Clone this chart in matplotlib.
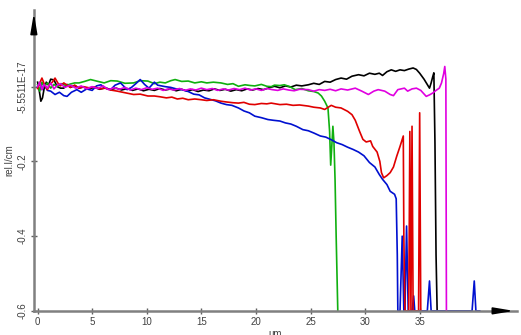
"""Relative intensity profiles along depth (um), five measurement traces."""

import matplotlib
matplotlib.use("Agg")
import matplotlib.pyplot as plt

plt.rcParams["font.family"] = ["Liberation Sans", "DejaVu Sans"]

# --- data -------------------------------------------------------------------
black_x = [0, 0.15, 0.3, 0.45, 0.6, 0.8, 1.0, 1.2, 1.5, 1.8,
           2.1, 2.4, 2.7, 3.0, 3.4, 3.8, 4.2, 4.7, 5.2, 5.7,
           6.2, 6.7, 7.2, 7.7, 8.2, 8.7, 9.2, 9.7, 10.2, 10.7,
           11.2, 11.7, 12.2, 12.7, 13.2, 13.7, 14.2, 14.7, 15.2, 15.7,
           16.2, 16.7, 17.2, 17.7, 18.2, 18.7, 19.2, 19.7, 20.2, 20.7,
           21.2, 21.7, 22.2, 22.7, 23.2, 23.7, 24.2, 24.8, 25.3, 25.8,
           26.3, 26.8, 27.3, 27.8, 28.3, 28.8, 29.4, 29.9, 30.4, 30.9,
           31.3, 31.6, 32.0, 32.4, 32.8, 33.2, 33.6, 34.0, 34.4, 34.7,
           35.0, 35.4, 35.9, 36.05, 36.2, 36.3, 36.4, 36.5, 36.6]
black_y = [0.012, -0.01, -0.039, -0.03, -0.005, 0.012, 0.004, 0.02, 0.018, 0.0,
           -0.004, -0.004, 0.006, -0.002, 0.003, -0.004, -0.001, -0.006, -0.002, -0.007,
           -0.003, -0.008, -0.004, -0.009, -0.005, -0.01, -0.006, -0.011, -0.007, -0.01,
           -0.005, -0.009, -0.006, -0.011, -0.007, -0.012, -0.008, -0.013, -0.009, -0.011,
           -0.006, -0.01, -0.007, -0.012, -0.008, -0.011, -0.006, -0.009, -0.005, -0.008,
           -0.003, 0.001, -0.003, 0.002, -0.001, 0.004, 0.002, 0.005, 0.009, 0.006,
           0.014, 0.012, 0.019, 0.023, 0.02, 0.028, 0.032, 0.029, 0.036, 0.033,
           0.036, 0.03, 0.04, 0.045, 0.041, 0.045, 0.043, 0.047, 0.05, 0.046,
           0.036, 0.02, -0.004, 0.01, 0.027, 0.037, -0.15, -0.45, -0.6]

green_x = [0, 0.2, 0.4, 0.6, 0.9, 1.2, 1.5, 1.8, 2.2, 2.6,
           3.0, 3.4, 3.8, 4.3, 4.85, 5.4, 6.1, 6.7, 7.3, 8.0,
           8.8, 9.4, 10.1, 10.7, 11.2, 11.7, 12.2, 12.6, 13.2, 13.8,
           14.4, 15.0, 15.5, 16.1, 16.8, 17.4, 17.9, 18.4, 19.0, 19.5,
           19.9, 20.5, 21.0, 21.4, 21.7, 22.2, 22.6, 23.1, 23.6, 24.2,
           24.8, 25.3, 25.7, 26.0, 26.3, 26.6, 26.75, 26.85, 26.95, 27.05,
           27.15, 27.25, 27.35, 27.5]
green_y = [0.005, -0.012, 0.012, 0.0, 0.01, -0.004, 0.006, 0.0, 0.008, 0.003,
           0.007, 0.01, 0.01, 0.014, 0.019, 0.015, 0.01, 0.016, 0.015, 0.009,
           0.01, 0.016, 0.015, 0.008, 0.012, 0.01, 0.016, 0.019, 0.014, 0.015,
           0.01, 0.013, 0.01, 0.012, 0.01, 0.006, 0.008, 0.001, 0.005, 0.003,
           0.002, 0.006, 0.001, 0.0, 0.004, 0.003, 0.005, 0.0, -0.008, -0.005,
           -0.011, -0.013, -0.017, -0.025, -0.039, -0.057, -0.12, -0.21, -0.16, -0.106,
           -0.15, -0.25, -0.4, -0.6]

blue_x = [0, 0.2, 0.4, 0.6, 0.9, 1.2, 1.6, 2.0, 2.4, 2.7,
          3.1, 3.6, 4.0, 4.5, 5.0, 5.4, 5.8, 6.2, 6.7, 7.1,
          7.6, 8.2, 8.6, 9.0, 9.4, 9.8, 10.2, 10.7, 11.0, 11.7,
          12.2, 12.7, 13.2, 13.8, 14.3, 14.8, 15.3, 15.8, 16.3, 16.8,
          17.3, 17.8, 18.4, 18.9, 19.4, 19.9, 20.5, 21.1, 21.6, 22.2,
          22.7, 23.2, 23.7, 24.3, 24.8, 25.3, 25.9, 26.4, 26.9, 27.4,
          27.9, 28.4, 28.9, 29.4, 29.9, 30.4, 30.9, 31.3, 31.6, 32.0,
          32.3, 32.7, 32.85, 32.95,
          33.0, 33.2, 33.4, 33.55, 33.65, 33.8, 33.95, 34.1, 34.3, 34.45,
          34.55, 34.65, 35.7, 35.9, 36.05, 39.8, 40.0, 40.15, 40.5]
blue_y = [0.0, 0.01, -0.008, 0.006, -0.01, -0.012, -0.021, -0.015, -0.024, -0.026,
          -0.015, -0.008, -0.015, -0.006, -0.01, 0.002, 0.005, -0.004, -0.008, 0.004,
          0.01, -0.008, -0.002, 0.008, 0.019, 0.006, -0.004, 0.012, 0.004, 0.0,
          -0.002, -0.006, -0.008, -0.013, -0.02, -0.022, -0.03, -0.034, -0.038, -0.044,
          -0.048, -0.05, -0.057, -0.065, -0.07, -0.079, -0.083, -0.088, -0.09, -0.092,
          -0.097, -0.1, -0.106, -0.115, -0.118, -0.124, -0.132, -0.135, -0.142, -0.15,
          -0.155, -0.162, -0.168, -0.175, -0.185, -0.203, -0.215, -0.235, -0.248, -0.262,
          -0.28, -0.288, -0.3, -0.45,
          -0.6, -0.6, -0.4, -0.6, -0.6, -0.373, -0.6, -0.6, -0.6, -0.56,
          -0.6, -0.6, -0.6, -0.52, -0.6, -0.6, -0.52, -0.6, -0.6]

red_x = [0, 0.2, 0.4, 0.65, 0.9, 1.1, 1.35, 1.6, 1.85, 2.1,
         2.4, 2.7, 3.0, 3.4, 3.8, 4.2, 4.7, 5.2, 5.7, 6.2,
         6.7, 7.3, 7.8, 8.3, 8.8, 9.4, 10.1, 10.7, 11.2, 11.8,
         12.3, 12.8, 13.3, 13.8, 14.4, 15.0, 15.5, 16.1, 16.8, 17.3,
         17.9, 18.4, 18.9, 19.4, 19.9, 20.5, 21.0, 21.4, 22.2, 22.8,
         23.4, 24.0, 24.8, 25.3, 25.9, 26.3, 26.9, 27.3, 27.8, 28.4,
         28.8, 29.1, 29.5, 29.8, 30.1, 30.5, 30.7, 31.1, 31.35, 31.5,
         31.7, 32.0, 32.3, 32.6, 32.9, 33.2, 33.5, 33.55, 33.65, 34.0,
         34.1, 34.2, 34.3, 34.4, 34.9, 35.0, 35.1]
red_y = [-0.005, 0.01, 0.023, 0.004, -0.008, 0.006, 0.012, 0.023, 0.01, 0.002,
         0.01, 0.004, -0.002, 0.004, -0.004, 0.0, -0.003, -0.001, -0.006, -0.004,
         -0.009, -0.012, -0.015, -0.018, -0.021, -0.02, -0.025, -0.025, -0.027, -0.03,
         -0.028, -0.033, -0.031, -0.035, -0.033, -0.035, -0.037, -0.035, -0.039, -0.041,
         -0.043, -0.044, -0.042, -0.047, -0.048, -0.045, -0.046, -0.044, -0.048, -0.047,
         -0.05, -0.049, -0.052, -0.055, -0.057, -0.061, -0.05, -0.055, -0.057, -0.066,
         -0.075, -0.09, -0.12, -0.141, -0.148, -0.145, -0.16, -0.175, -0.2, -0.23,
         -0.244, -0.238, -0.23, -0.215, -0.186, -0.16, -0.132, -0.4, -0.6, -0.6,
         -0.12, -0.6, -0.106, -0.6, -0.6, -0.07, -0.6]

magenta_x = [0, 0.2, 0.4, 0.6, 0.9, 1.2, 1.5, 1.8, 2.1, 2.5,
             3.0, 3.5, 4.0, 4.5, 5.0, 5.5, 6.0, 6.5, 7.0, 7.5,
             8.0, 8.5, 9.0, 9.5, 10.0, 10.5, 11.0, 11.5, 12.0, 12.5,
             13.0, 13.5, 14.0, 14.5, 15.0, 15.5, 16.0, 16.5, 17.0, 17.5,
             18.0, 18.5, 19.0, 19.5, 20.0, 20.5, 21.0, 21.5, 22.0, 22.5,
             23.0, 23.5, 24.0,
             24.8, 25.3, 25.8, 26.3, 26.8, 27.3, 27.8, 28.4, 29.1, 29.7,
             30.3, 30.8, 31.2, 31.8, 32.3, 32.6, 33.0, 33.6, 33.9, 34.3,
             34.7, 35.1, 35.6, 35.9, 36.2, 36.5, 36.8, 37.0, 37.2, 37.3,
             37.4, 37.45]
magenta_y = [0.0, 0.012, -0.008, 0.006, -0.004, 0.01, -0.006, 0.004, 0.008, -0.002,
             0.004, -0.004, 0.002, -0.006, 0.0, -0.005, 0.002, -0.008, -0.003, -0.007,
             -0.002, -0.009, -0.004, -0.008, -0.003, -0.007, -0.004, -0.01, -0.006, -0.009,
             -0.005, -0.01, -0.006, -0.009, -0.004, -0.008, -0.005, -0.01, -0.006, -0.009,
             -0.005, -0.008, -0.004, -0.009, -0.006, -0.01, -0.005, -0.008, -0.01, -0.006,
             -0.009, -0.011, -0.007,
             -0.008, -0.012, -0.008, -0.01, -0.007, -0.011, -0.006, -0.009, -0.004, -0.012,
             -0.021, -0.012, -0.008, -0.012, -0.021, -0.024, -0.008, -0.004, -0.012, -0.006,
             -0.004, -0.01, -0.026, -0.022, -0.017, -0.01, -0.004, 0.01, 0.035, 0.054,
             0.02, -0.6]

x_ticks = [0, 5, 10, 15, 20, 25, 30, 35]
y_ticks = [0, -0.2, -0.4, -0.6]
y_tick_labels = ["-5.5511E-17", "-0.2", "-0.4", "-0.6"]

SERIES = [
    (black_x, black_y, "black"),
    (green_x, green_y, "#10b010"),
    (blue_x, blue_y, "#0010d0"),
    (red_x, red_y, "#e00000"),
    (magenta_x, magenta_y, "#e000e0"),
]


def main() -> None:
    fig = plt.figure(figsize=(5.21, 3.35), dpi=100)
    ax = fig.add_axes([0.065, 0.072, 0.927, 0.898])

    for xs, ys, color in SERIES:
        ax.plot(xs, ys, color=color, lw=1.2)

    ax.set_xlim(-0.34, 43.9)
    ax.set_ylim(-0.6, 0.205)

    for side in ("top", "right"):
        ax.spines[side].set_visible(False)
    for side in ("left", "bottom"):
        ax.spines[side].set_color("#808080")
        ax.spines[side].set_linewidth(1.8)

    # arrow heads at the axis ends
    ax.annotate("", xy=(0, 1.0), xytext=(0, 0.93), xycoords="axes fraction",
                arrowprops=dict(arrowstyle="-|>,head_length=1.2,head_width=0.2",
                                color="black", lw=1.2))
    ax.annotate("", xy=(1.0, 0), xytext=(0.96, 0), xycoords="axes fraction",
                arrowprops=dict(arrowstyle="-|>,head_length=1.2,head_width=0.2",
                                color="black", lw=1.2))

    ax.set_xticks(x_ticks)
    ax.set_yticks(y_ticks)
    ax.set_yticklabels(y_tick_labels, rotation=90, va="center")
    ax.tick_params(direction="inout", length=5, width=1, color="#606060",
                   labelsize=7, labelcolor="#404040", pad=2)

    ax.set_xlabel("um", fontsize=7, color="#404040", labelpad=1)
    ax.set_ylabel("rel.I/cm", fontsize=7, color="#404040", labelpad=2)

    fig.savefig("out.png", dpi=100)
    plt.close(fig)


if __name__ == "__main__":
    main()
